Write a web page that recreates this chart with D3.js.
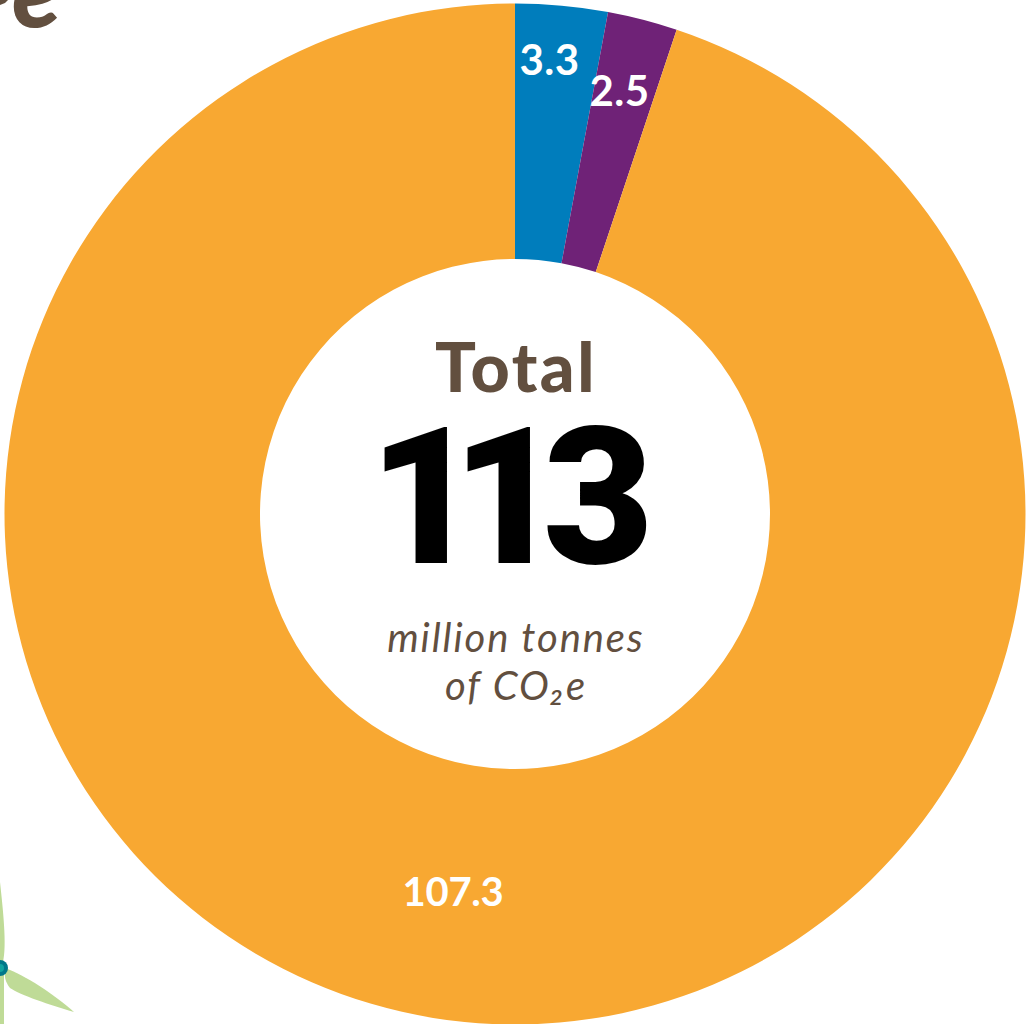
<!DOCTYPE html>
<html><head><meta charset="utf-8">
<script src="https://cdnjs.cloudflare.com/ajax/libs/d3/7.8.5/d3.min.js"></script>
<style>html,body{margin:0;padding:0;background:#fff;overflow:hidden}svg{display:block}</style>
</head><body>
<svg id="c" width="1026" height="1024"></svg>
<script>
const categories = ["Blue", "Purple", "Orange"];
const values = [3.3, 2.5, 107.3];
const valueLabels = ["3.3", "2.5", "107.3"];
const colors = ["#007DBC", "#6F2277", "#F8A832"];
const totalLabel = "Total";
const totalValue = "113";
const unitLines = ["million tonnes", "of CO₂e"];

const svg = d3.select("#c");
const font = "Lato, 'Open Sans', sans-serif";
const cx = 515, cy = 514, R = 510.5, r = 255;

const pie = d3.pie().sort(null).value(d => d.v);
const arc = d3.arc().innerRadius(r).outerRadius(R);
const arcs = pie(categories.map((c, i) => ({c, v: values[i], color: colors[i], label: valueLabels[i]})));
const g = svg.append("g").attr("transform", `translate(${cx},${cy})`);
g.selectAll("path").data(arcs).join("path").attr("d", arc).attr("fill", d => d.data.color);

// value labels: offsets from centre
const labelPos = [[34.5, -439], [104.5, -408], [-62, 392]];
g.selectAll("text.v").data(arcs).join("text").attr("class", "v")
  .attr("x", (d, i) => labelPos[i][0]).attr("y", (d, i) => labelPos[i][1])
  .attr("text-anchor", "middle").attr("font-family", font).attr("font-weight", 700)
  .attr("font-size", (d, i) => i < 2 ? 42 : 40).attr("letter-spacing", (d, i) => i < 2 ? 0.5 : -0.3)
  .attr("fill", "#fff").text(d => d.data.label);

g.append("text").attr("x", 1).attr("y", -122).attr("text-anchor", "middle")
  .attr("font-family", font).attr("font-weight", 900).attr("font-size", 68).attr("letter-spacing", 2.5).attr("fill", "#624F3F").text(totalLabel);
g.append("text").attr("x", "-146 -63 28").attr("y", 49)
  .attr("font-family", "Roboto, sans-serif").attr("font-weight", 900).attr("font-size", 191).attr("fill", "#000").text(totalValue);
g.selectAll("text.u").data(unitLines).join("text").attr("class", "u")
  .attr("x", 1).attr("y", (d, i) => 138 + i * 48).attr("text-anchor", "middle")
  .attr("font-family", font).attr("font-style", "italic").attr("font-size", 40).attr("letter-spacing", 1.9)
  .attr("fill", "#624F3F").text(d => d);

// clipped title letters, top-left corner
svg.append("text").attr("x", 12).attr("y", 27).attr("font-family", font).attr("font-weight", 900)
  .attr("font-style", "italic").attr("font-size", 100).attr("fill", "#624F3F").text("e");
svg.append("path").attr("fill", "#624F3F").attr("d", "M0,0 L8,0 L5,3 L0,5 Z");

// wind turbine decoration, bottom-left corner
const t = svg.append("g");
const blade = "#BFDB97";
t.append("path").attr("fill", blade).attr("d", "M0,882 C3,910 7,945 3,962 L0,968 Z");
t.append("path").attr("fill", blade).attr("d", "M5,968 C25,975 55,995 74,1012 C50,1005 20,995 10,988 C5,982 4,975 5,968 Z");
t.append("rect").attr("fill", blade).attr("x", 0).attr("y", 975).attr("width", 4).attr("height", 49);
t.append("circle").attr("cx", 0).attr("cy", 968).attr("r", 8).attr("fill", "#00788A");
t.append("circle").attr("cx", 0).attr("cy", 968).attr("r", 4).attr("fill", "#0FA3A0");
</script>
</body></html>
